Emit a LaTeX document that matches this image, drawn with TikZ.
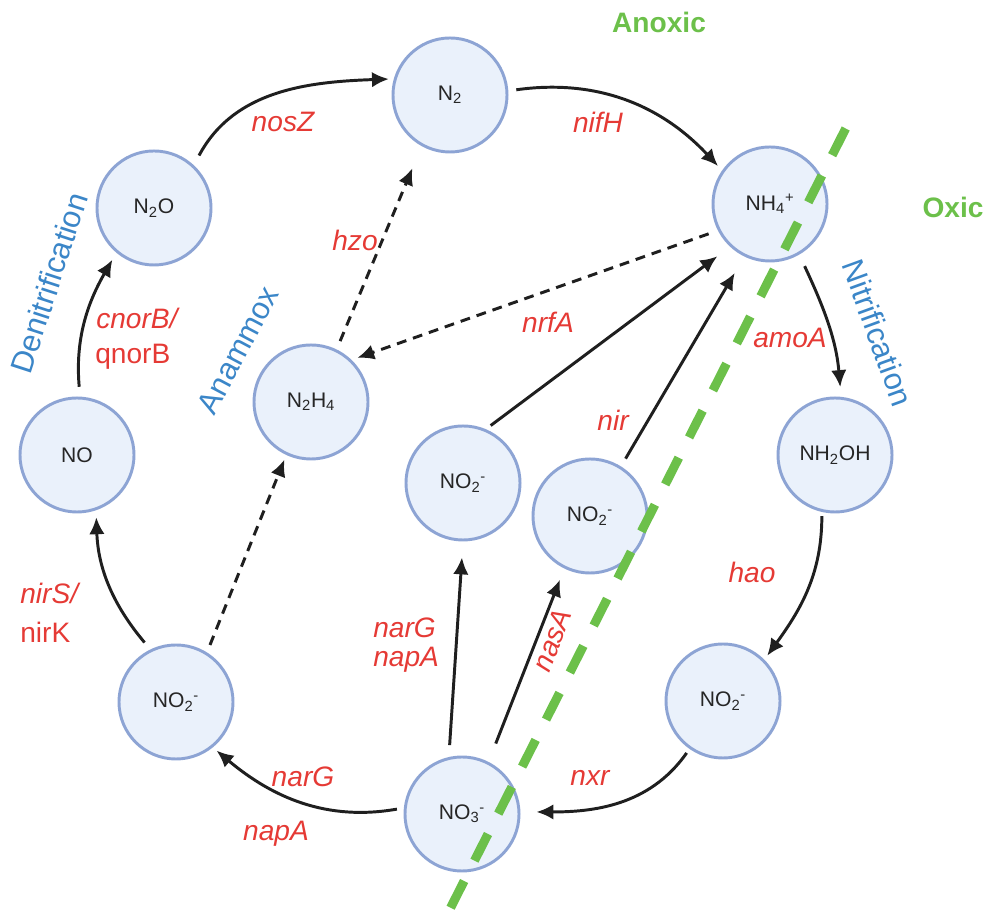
\documentclass[tikz,border=0pt]{standalone}
\usepackage{fontspec}
\setmainfont{Liberation Sans}
\usetikzlibrary{arrows.meta}
\definecolor{cfill}{HTML}{EAF1FB}
\definecolor{cdraw}{HTML}{8DA4D4}
\definecolor{cred}{HTML}{E53A35}
\definecolor{cblue}{HTML}{3B86C8}
\definecolor{cgreen}{HTML}{6CC04A}
\begin{document}
\begin{tikzpicture}[x=0.025cm,y=0.025cm,
 spec/.style={circle,draw=cdraw,fill=cfill,line width=2.1pt,minimum size=2.85cm,inner sep=0pt,font=\fontsize{15}{18}\selectfont,text=black!85},
 conn/.style={line width=2.1pt,draw=black!88,-{Latex[length=12pt,width=11pt]}},
 dconn/.style={conn,dash pattern=on 7pt off 5pt},
 gene/.style={text=cred,font=\fontsize{20}{24}\selectfont\itshape,inner sep=0pt},
 geneup/.style={text=cred,font=\fontsize{20}{24}\selectfont,inner sep=0pt},
 proc/.style={text=cblue,font=\fontsize{22}{26}\selectfont,inner sep=0pt},
 zone/.style={text=cgreen,font=\fontsize{20}{24}\selectfont\bfseries,inner sep=0pt},
 boundary/.style={draw=cgreen,line width=6.4pt,dash pattern=on 21.3pt off 16.2pt}]
\useasboundingbox (0,0) rectangle (997,911);

% species
\node[spec] (n2)   at (450,816) {N\textsubscript{2}};
\node[spec] (nh4)  at (770,707) {NH\textsubscript{4}\textsuperscript{+}};
\node[spec] (n2o)  at (154,703) {N\textsubscript{2}O};
\node[spec] (no)   at (77,456)  {NO};
\node[spec] (n2h4) at (311,509) {N\textsubscript{2}H\textsubscript{4}};
\node[spec] (no2c) at (463,428) {NO\textsubscript{2}\textsuperscript{-}};
\node[spec] (no2b) at (590,395) {NO\textsubscript{2}\textsuperscript{-}};
\node[spec] (nh2oh) at (835,456) {NH\textsubscript{2}OH};
\node[spec] (no2l) at (176,209) {NO\textsubscript{2}\textsuperscript{-}};
\node[spec] (no2r) at (723,210) {NO\textsubscript{2}\textsuperscript{-}};
\node[spec] (no3)  at (462,97)  {NO\textsubscript{3}\textsuperscript{-}};

% solid reactions
\draw[conn,shorten <=7.8pt,shorten >=3.5pt] (n2o.47) to[out=62,in=182] (n2.164);
\draw[conn,shorten <=5.7pt,shorten >=4.3pt] (n2.4) to[out=8,in=133] (nh4.145);
\draw[conn,shorten <=7pt,shorten >=5.7pt] (no.87) to[out=95,in=240] (n2o.230);
\draw[conn,shorten <=6.4pt,shorten >=5pt] (no2l.116) to[out=130,in=272] (no.289);
\draw[conn,shorten <=5pt,shorten >=3.5pt] (no3.174) to[out=190,in=320] (no2l.309);
\draw[conn,shorten <=4.3pt,shorten >=11.4pt] (no2c.67) -- (nh4.227);
\draw[conn,shorten <=6.4pt,shorten >=13.5pt] (no2b.58) -- (nh4.244);
\draw[conn,shorten <=8.5pt,shorten >=11.4pt] (no3.103) -- (no2c.270);
\draw[conn,shorten <=14pt,shorten >=8.5pt] (no3.63) -- (no2b.244);
\draw[conn,shorten <=9pt,shorten >=7pt] (nh4.300) to[out=-65,in=95] (nh2oh.84);
\draw[conn,shorten <=3pt,shorten >=3.5pt] (nh2oh.257) to[out=-90,in=54] (no2r.45);
\draw[conn,shorten <=3.5pt,shorten >=11.4pt] (no2r.235) to[out=235,in=0] (no3.2);

% anammox (dashed)
\draw[dconn,shorten <=5.7pt,shorten >=3.5pt] (no2l.58) -- (n2h4.245);
\draw[dconn,shorten <=6.4pt,shorten >=17pt] (n2h4.64) -- (n2.241);
\draw[dconn,shorten <=7pt,shorten >=4.3pt] (nh4.207) -- (n2h4.46);

% gene labels
\node[gene] (lnosZ) at (283,789) {nosZ};
\node[gene] (lnifH) at (598,789) {nifH};
\node[gene] (lhzo)  at (355,671) {hzo};
\node[gene,anchor=west] (lcnor) at (96,593) {cnorB/};
\node[geneup,anchor=west] (lqnor) at (95,554) {qnorB};
\node[gene,anchor=west] (lnirS) at (20,318) {nirS/};
\node[geneup,anchor=west] (lnirK) at (20,279) {nirK};
\node[gene] (lnrfA) at (548,589) {nrfA};
\node[gene] (lnir)  at (613,491) {nir};
\node[gene] (lamoA) at (790,573) {amoA};
\node[gene] (lhao)  at (752,339) {hao};
\node[gene,anchor=west] (lnarG1) at (373,283) {narG};
\node[gene,anchor=west] (lnapA1) at (373,251) {napA};
\node[gene,rotate=69] (lnasA) at (552,271) {nasA};
\node[gene] (lnarG2) at (303,134) {narG};
\node[gene] (lnapA2) at (276,77) {napA};
\node[gene] (lnxr)  at (590,133) {nxr};

% process labels
\node[proc,rotate=72] (ldenit) at (49,628) {Denitrification};
\node[proc,rotate=62] (lanam) at (238,561) {Anammox};
\node[proc,rotate=-70] (lnitr) at (878,578) {Nitrification};

% oxic / anoxic boundary
\draw[boundary] (845.7,782.5) -- (450.3,2.7);
\node[zone] (lanox) at (659,889) {Anoxic};
\node[zone] (loxic) at (953,704) {Oxic};
\end{tikzpicture}
\end{document}
